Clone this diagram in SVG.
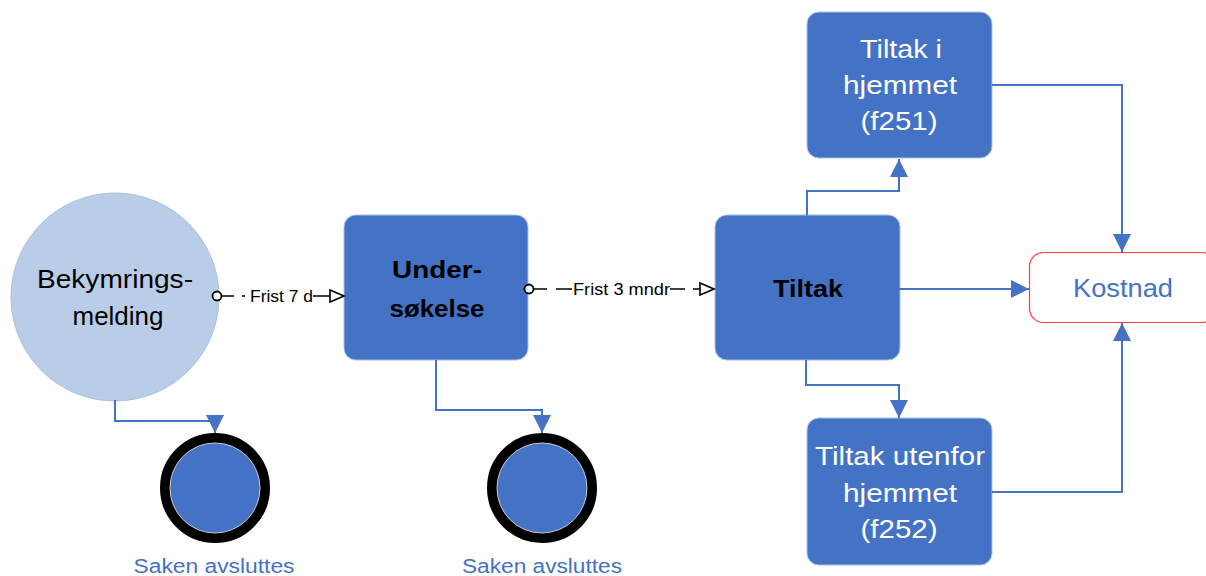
<svg xmlns="http://www.w3.org/2000/svg" width="1206" height="576" viewBox="0 0 1206 576">
<defs>
<marker id="arr" markerUnits="userSpaceOnUse" markerWidth="18" markerHeight="18" refX="18" refY="9" orient="auto" viewBox="0 0 18 18">
<path d="M0,0 L18,9 L0,18 z" fill="#4472C4"/>
</marker>
<style>
.box{fill:#4472C4;stroke:#A9BFE6;stroke-width:1}
.t{font-family:"Liberation Sans",Arial,sans-serif;text-anchor:middle}
.k{fill:#000}
.w{fill:#fff}
.b{font-weight:bold}
.conn{fill:none;stroke:#4472C4;stroke-width:2}
.ln{stroke:#000;stroke-width:1.5;fill:none}
.lab{font-family:"Liberation Sans",Arial,sans-serif;fill:#000}
.blue{fill:#4472C4}
</style>
</defs>
<rect width="1206" height="576" fill="#fff"/>

<g id="bekymringsmelding">
<circle cx="115" cy="297" r="104" fill="#BACDE8" stroke="#A9BFE0" stroke-width="1"/>
<text class="t k" x="115" y="288" font-size="25" textLength="156" lengthAdjust="spacingAndGlyphs">Bekymrings-</text>
<text class="t k" x="118" y="325" font-size="25" textLength="91" lengthAdjust="spacingAndGlyphs">melding</text>
</g>

<g id="undersokelse">
<rect class="box" x="344" y="215" width="184" height="145" rx="12"/>
<text class="t k b" x="437" y="278" font-size="23" textLength="90" lengthAdjust="spacingAndGlyphs">Under-</text>
<text class="t k b" x="437" y="317" font-size="23" textLength="95" lengthAdjust="spacingAndGlyphs">søkelse</text>
</g>

<g id="tiltak">
<rect class="box" x="715" y="215" width="185" height="145" rx="12"/>
<text class="t k b" x="808" y="297" font-size="23" textLength="70" lengthAdjust="spacingAndGlyphs">Tiltak</text>
</g>

<g id="tiltak-hjemmet">
<rect class="box" x="807" y="12" width="185" height="146" rx="12"/>
<text class="t w" x="901" y="58" font-size="25" textLength="82" lengthAdjust="spacingAndGlyphs">Tiltak i</text>
<text class="t w" x="900" y="94" font-size="25" textLength="114" lengthAdjust="spacingAndGlyphs">hjemmet</text>
<text class="t w" x="899" y="130" font-size="25" textLength="77" lengthAdjust="spacingAndGlyphs">(f251)</text>
</g>

<g id="tiltak-utenfor">
<rect class="box" x="807" y="418" width="185" height="147" rx="12"/>
<text class="t w" x="900" y="465" font-size="25" textLength="170" lengthAdjust="spacingAndGlyphs">Tiltak utenfor</text>
<text class="t w" x="900" y="502" font-size="25" textLength="114" lengthAdjust="spacingAndGlyphs">hjemmet</text>
<text class="t w" x="899" y="538" font-size="25" textLength="77" lengthAdjust="spacingAndGlyphs">(f252)</text>
</g>

<g id="kostnad">
<rect x="1029.5" y="252.5" width="186" height="70" rx="14" fill="#fff" stroke="#FF3B3B" stroke-width="1.2"/>
<text class="t blue" x="1123" y="297" font-size="25" textLength="100" lengthAdjust="spacingAndGlyphs">Kostnad</text>
</g>

<g id="slutt1">
<circle cx="215" cy="488" r="50" fill="#4472C4" stroke="#000" stroke-width="10"/>
<circle cx="215" cy="488" r="45" fill="none" stroke="#C8C8C8" stroke-width="1"/>
<text class="t blue" x="214" y="573" font-size="20" textLength="161" lengthAdjust="spacingAndGlyphs">Saken avsluttes</text>
</g>

<g id="slutt2">
<circle cx="542" cy="488" r="50" fill="#4472C4" stroke="#000" stroke-width="10"/>
<circle cx="542" cy="488" r="45" fill="none" stroke="#C8C8C8" stroke-width="1"/>
<text class="t blue" x="542" y="573" font-size="20" textLength="160" lengthAdjust="spacingAndGlyphs">Saken avsluttes</text>
</g>

<g id="connectors">
<path class="conn" d="M115,400 V421 H215 V433" marker-end="url(#arr)"/>
<path class="conn" d="M436,360 V410 H542 V433" marker-end="url(#arr)"/>
<path class="conn" d="M807,215 V191 H899 V159" marker-end="url(#arr)"/>
<path class="conn" d="M806,360 V385 H899 V418" marker-end="url(#arr)"/>
<path class="conn" d="M899,289 H1029" marker-end="url(#arr)"/>
<path class="conn" d="M992,85 H1122 V252" marker-end="url(#arr)"/>
<path class="conn" d="M992,492 H1122 V323" marker-end="url(#arr)"/>
<g id="c1">
<circle cx="217" cy="296" r="4.5" fill="#fff" stroke="#000" stroke-width="1.8"/>
<line class="ln" x1="222" y1="296" x2="234" y2="296"/>
<line class="ln" x1="242" y1="296" x2="245" y2="296"/>
<text class="lab" x="250" y="302" font-size="16" textLength="63" lengthAdjust="spacingAndGlyphs">Frist 7 d</text>
<line class="ln" x1="313" y1="296" x2="330" y2="296"/>
<polygon points="330,290 344,296 330,302" fill="#fff" stroke="#000" stroke-width="1.6"/>
</g>
<g id="c2">
<circle cx="529" cy="289" r="4.5" fill="#fff" stroke="#000" stroke-width="1.8"/>
<line class="ln" x1="534" y1="289" x2="547" y2="289"/>
<line class="ln" x1="556" y1="289" x2="572" y2="289"/>
<text class="lab" x="573" y="295" font-size="17" textLength="97" lengthAdjust="spacingAndGlyphs">Frist 3 mndr</text>
<line class="ln" x1="670" y1="289" x2="685" y2="289"/>
<line class="ln" x1="693" y1="289" x2="700" y2="289"/>
<polygon points="700,283 714,289 700,295" fill="#fff" stroke="#000" stroke-width="1.6"/>
</g>
</g>
</svg>
